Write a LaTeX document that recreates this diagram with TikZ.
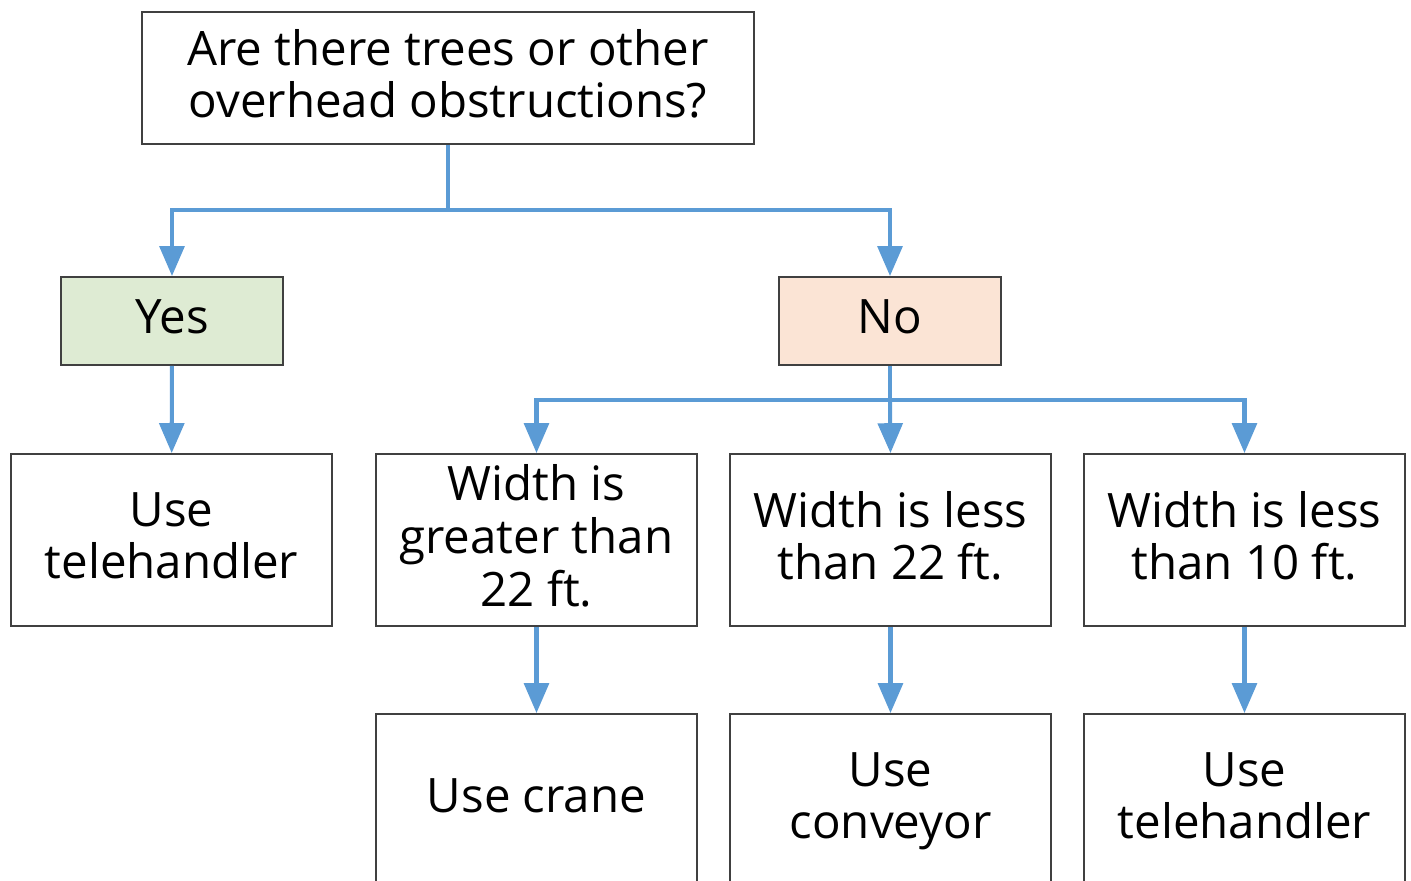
\documentclass[tikz,border=0pt]{standalone}
\usepackage{fontspec}
\setmainfont{Open Sans}
\usetikzlibrary{arrows.meta}

\definecolor{flowblue}{RGB}{91,155,213}
\definecolor{yesgreen}{RGB}{222,235,211}
\definecolor{nopeach}{RGB}{251,228,213}

\begin{document}
\begin{tikzpicture}[x=0.02cm,y=-0.02cm,
    box/.style={draw=black!75, line width=1.1pt, align=center,
      inner sep=0pt, text depth=5pt, font=\fontsize{27}{30}\selectfont},
    question/.style={box, minimum width=12.24cm, minimum height=2.64cm},
    answer/.style={box, minimum width=4.44cm, minimum height=1.76cm},
    choice/.style={box, minimum width=6.42cm, minimum height=3.44cm},
    flow/.style={draw=flowblue, line width=2.3pt,
      -{Triangle[width=14pt,length=17pt]}}]
    \useasboundingbox (0,0) rectangle (1411,880);
    \clip (0,0) rectangle (1411,880);

    % question and the two answers
    \node[question] (q) at (448,78) {Are there trees or other\\overhead obstructions?};
    \node[answer, fill=yesgreen] (yes) at (172,321) {Yes};
    \node[answer, fill=nopeach] (no) at (890,321) {No};

    % width checks
    \node[choice] (tele1) at (171.5,540) {Use\\telehandler};
    \node[choice] (wide) at (536.5,540) {Width is\\greater than\\22 ft.};
    \node[choice] (mid) at (890.5,540) {Width is less\\than 22 ft.};
    \node[choice] (narrow) at (1244.5,540) {Width is less\\than 10 ft.};

    % equipment
    \node[choice] (crane) at (536.5,800) {Use crane};
    \node[choice] (conv) at (890.5,800) {Use\\conveyor};
    \node[choice] (tele2) at (1244.5,800) {Use\\telehandler};

    \coordinate (split1) at (448,210);
    \coordinate (split2) at (890,400);

    \draw[flow] (q.south) -- (split1) -| (yes.north);
    \draw[flow] (split1) -| (no.north);
    \draw[flow] (yes) -- (tele1);
    \draw[flow] (no.south) -- (split2) -| (wide.north);
    \draw[flow] (split2) -- (mid.north);
    \draw[flow] (split2) -| (narrow.north);
    \draw[flow] (wide) -- (crane);
    \draw[flow] (mid) -- (conv);
    \draw[flow] (narrow) -- (tele2);
\end{tikzpicture}
\end{document}
